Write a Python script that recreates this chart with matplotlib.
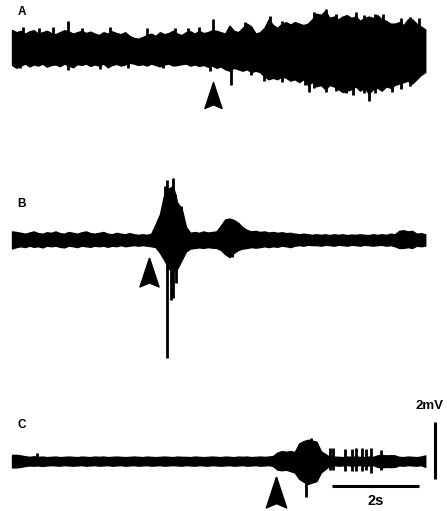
import numpy as np
import matplotlib.pyplot as plt

# envelope of each trace, one value every 0.1 s (mV above / below baseline)
dt = 0.1

upper_A = [0.63, 0.55, 0.60, 0.50, 0.58, 0.62, 0.50, 0.55, 0.60, 0.52,
           0.48, 0.55, 0.62, 0.58, 0.50, 0.55, 0.60, 0.52, 0.57, 0.50,
           0.45, 0.55, 0.50, 0.58, 0.52, 0.48, 0.55, 0.42, 0.35, 0.32,
           0.38, 0.45, 0.50, 0.42, 0.55, 0.48, 0.52, 0.60, 0.50, 0.45,
           0.55, 0.58, 0.50, 0.60, 0.52, 0.55, 0.62, 0.60, 0.55, 0.50,
           0.78, 0.60, 0.55, 0.70, 0.85, 0.75, 0.50, 0.55, 0.70, 1.00,
           0.80, 0.70, 0.85, 0.90, 0.82, 0.90, 0.85, 0.80, 0.85, 1.00,
           1.20, 1.15, 1.30, 1.05, 1.10, 1.00, 1.10, 1.15, 1.05, 1.10,
           0.95, 1.05, 1.10, 1.05, 1.15, 1.00, 0.95, 0.85, 0.85, 0.90,
           0.80, 1.00, 1.00, 0.85, 0.75, 0.65]
lower_A = [-0.60, -0.70, -0.62, -0.55, -0.65, -0.58, -0.62, -0.55, -0.66, -0.60,
           -0.58, -0.64, -0.55, -0.62, -0.68, -0.57, -0.60, -0.55, -0.63, -0.58,
           -0.62, -0.55, -0.68, -0.60, -0.56, -0.62, -0.58, -0.52, -0.55, -0.60,
           -0.57, -0.62, -0.55, -0.60, -0.65, -0.58, -0.55, -0.62, -0.60, -0.57,
           -0.55, -0.62, -0.58, -0.63, -0.60, -0.66, -0.62, -0.70, -0.65, -0.75,
           -0.80, -0.70, -0.75, -0.80, -0.75, -0.85, -0.80, -0.85, -1.00, -1.10,
           -1.05, -1.10, -1.00, -1.05, -1.15, -1.10, -1.20, -1.10, -1.30, -1.20,
           -1.35, -1.30, -1.45, -1.30, -1.35, -1.45, -1.55, -1.50, -1.45, -1.35,
           -1.50, -1.40, -1.60, -1.45, -1.40, -1.50, -1.35, -1.40, -1.30, -1.25,
           -1.20, -1.15, -1.25, -1.10, -0.95, -0.85]

upper_B = [0.30, 0.28, 0.25, 0.22, 0.26, 0.30, 0.24, 0.22, 0.27, 0.25,
           0.30, 0.24, 0.22, 0.28, 0.25, 0.22, 0.27, 0.30, 0.24, 0.22,
           0.25, 0.28, 0.22, 0.20, 0.25, 0.22, 0.20, 0.24, 0.20, 0.18,
           0.20, 0.18, 0.22, 0.55, 0.90, 1.60, 1.80, 1.90, 1.30, 1.10,
           0.45, 0.25, 0.28, 0.25, 0.30, 0.26, 0.28, 0.30, 0.50, 0.72,
           0.75, 0.70, 0.60, 0.45, 0.35, 0.30, 0.32, 0.28, 0.30, 0.26,
           0.28, 0.25, 0.27, 0.24, 0.25, 0.22, 0.20, 0.22, 0.20, 0.18,
           0.20, 0.18, 0.20, 0.17, 0.20, 0.18, 0.20, 0.17, 0.19, 0.18,
           0.20, 0.18, 0.17, 0.20, 0.18, 0.20, 0.18, 0.22, 0.20, 0.32,
           0.34, 0.30, 0.32, 0.22, 0.24, 0.20]
lower_B = [-0.30, -0.25, -0.22, -0.25, -0.20, -0.24, -0.22, -0.26, -0.20, -0.22,
           -0.20, -0.24, -0.26, -0.20, -0.22, -0.25, -0.20, -0.22, -0.24, -0.20,
           -0.22, -0.20, -0.24, -0.20, -0.22, -0.18, -0.22, -0.20, -0.18, -0.20,
           -0.18, -0.20, -0.22, -0.25, -0.45, -0.70, -1.00, -1.10, -1.00, -0.70,
           -0.40, -0.30, -0.28, -0.26, -0.28, -0.25, -0.27, -0.28, -0.35, -0.50,
           -0.60, -0.45, -0.35, -0.30, -0.28, -0.25, -0.27, -0.25, -0.22, -0.25,
           -0.22, -0.24, -0.20, -0.22, -0.25, -0.20, -0.18, -0.20, -0.17, -0.18,
           -0.18, -0.20, -0.17, -0.18, -0.20, -0.17, -0.18, -0.20, -0.17, -0.18,
           -0.20, -0.17, -0.18, -0.20, -0.18, -0.17, -0.20, -0.18, -0.22, -0.28,
           -0.28, -0.25, -0.28, -0.20, -0.22, -0.20]

upper_C = [0.22, 0.22, 0.20, 0.17, 0.15, 0.17, 0.15, 0.16, 0.14, 0.15,
           0.16, 0.14, 0.15, 0.16, 0.15, 0.14, 0.16, 0.15, 0.14, 0.16,
           0.15, 0.16, 0.14, 0.15, 0.16, 0.15, 0.14, 0.15, 0.16, 0.15,
           0.14, 0.16, 0.15, 0.14, 0.15, 0.16, 0.15, 0.14, 0.16, 0.15,
           0.15, 0.14, 0.16, 0.15, 0.14, 0.15, 0.16, 0.15, 0.14, 0.16,
           0.15, 0.14, 0.16, 0.15, 0.16, 0.14, 0.15, 0.16, 0.15, 0.16,
           0.18, 0.30, 0.35, 0.33, 0.35, 0.32, 0.62, 0.70, 0.75, 0.72,
           0.68, 0.35, 0.25, 0.15, 0.16, 0.15, 0.14, 0.16, 0.15, 0.16,
           0.15, 0.14, 0.16, 0.15, 0.20, 0.22, 0.20, 0.21, 0.20, 0.15,
           0.14, 0.16, 0.15, 0.14, 0.16, 0.20]
lower_C = [-0.22, -0.22, -0.20, -0.17, -0.15, -0.16, -0.15, -0.17, -0.15, -0.14,
           -0.15, -0.16, -0.14, -0.15, -0.16, -0.15, -0.14, -0.16, -0.15, -0.14,
           -0.16, -0.15, -0.14, -0.16, -0.15, -0.14, -0.16, -0.15, -0.14, -0.16,
           -0.15, -0.14, -0.16, -0.15, -0.14, -0.16, -0.15, -0.14, -0.15, -0.16,
           -0.14, -0.15, -0.16, -0.14, -0.15, -0.16, -0.14, -0.15, -0.16, -0.15,
           -0.14, -0.16, -0.15, -0.14, -0.16, -0.15, -0.14, -0.16, -0.15, -0.14,
           -0.17, -0.30, -0.32, -0.30, -0.35, -0.40, -0.62, -0.72, -0.80, -0.75,
           -0.70, -0.40, -0.28, -0.15, -0.14, -0.16, -0.15, -0.14, -0.16, -0.15,
           -0.14, -0.16, -0.15, -0.14, -0.20, -0.22, -0.20, -0.21, -0.20, -0.15,
           -0.16, -0.14, -0.15, -0.16, -0.14, -0.20]

# single sharp deflections: time (s), lowest (mV), highest (mV)
spikes_A_t = [0.18, 0.25, 0.62, 0.95, 1.29, 1.62, 2.02, 2.25, 2.67, 3.10, 3.47, 3.75,
              4.05, 4.30, 4.55, 4.62, 5.03, 5.36, 5.50, 5.80, 5.93, 6.20, 6.50, 6.74,
              6.83, 6.95, 7.05, 7.22, 7.45, 7.68, 7.85, 7.90, 8.10, 8.21, 8.35, 8.53,
              8.74, 8.95, 9.15, 9.35]
spikes_A_lo = [-0.70, 0, 0, 0, -0.77, 0, -0.75, 0, -0.72, 0, -0.72, 0,
               0, 0, -0.82, 0, -1.30, 0, -0.95, -1.15, 0, -1.20, 0, -1.30,
               -1.55, -1.40, 0, -1.55, -1.50, -1.60, -1.65, 0, -1.60, -1.85, -1.60, 0,
               -1.55, -1.45, -1.35, 0]
spikes_A_hi = [0, 0.72, 0.70, 0.72, 0.95, 0.70, 0, 0.72, 0, 0.70, 0, 0.68,
               0.70, 0.72, 0, 1.00, 0, 0.90, 0, 0, 1.12, 0.95, 0.90, 0,
               0, 1.25, 1.20, 1.35, 1.20, 0, 0, 1.25, 1.15, 0, 1.20, 1.20,
               0, 1.05, 1.10, 1.05]

spikes_B_t = [3.33, 3.52, 3.56, 3.60, 3.66, 3.70, 3.75, 3.77, 3.80, 3.89, 5.06]
spikes_B_lo = [0, 0, -4.14, 0, -2.10, -2.05, 0, -1.50, 0, 0, -0.60]
spikes_B_hi = [0.60, 1.90, 2.10, 1.80, 0, 2.17, 1.60, 0, 1.30, 1.20, 0]

spikes_C_t = [0.57, 6.76, 6.87, 7.31, 7.38, 7.66, 7.82, 7.91, 8.05, 8.14, 8.25, 8.48]
spikes_C_lo = [0, -1.26, 0, -0.30, -0.30, -0.35, -0.35, -0.35, -0.35, -0.30, -0.40, -0.30]
spikes_C_hi = [0.30, 0, 0.80, 0.45, 0.45, 0.43, 0.42, 0.45, 0.45, 0.42, 0.45, 0.40]

labels = ['A', 'B', 'C']
baselines = [-1.68, -8.42, -16.18]       # mV, vertical offset of each trace
stim_t = [4.62, 3.16, 6.08]              # s, arrowhead under each trace
stim_y = [-3.33, -9.53, -17.28]
stim_size = [18.7, 20.9, 22.3]

bar_t0, bar_len = 7.36, 2.0              # 2 s
bar_v_t, bar_v0, bar_vlen = 9.72, -16.81, 2.0   # 2 mV
bar_h_y = -17.05

arrowhead = [(0, 0.5), (0.33, -0.5), (0, -0.36), (-0.33, -0.5), (0, 0.5)]

fig = plt.figure(figsize=(4.47, 5.11), dpi=100)
ax = fig.add_axes([0, 0, 1, 1])
ax.set_xlim(-0.276, 10.0)
ax.set_ylim(-17.93, 0)
ax.axis('off')

ups = [upper_A, upper_B, upper_C]
los = [lower_A, lower_B, lower_C]
sp = [(spikes_A_t, spikes_A_lo, spikes_A_hi),
      (spikes_B_t, spikes_B_lo, spikes_B_hi),
      (spikes_C_t, spikes_C_lo, spikes_C_hi)]

for k in range(3):
    off = baselines[k]
    t = np.arange(len(ups[k])) * dt
    ax.fill_between(t, off + np.array(los[k]), off + np.array(ups[k]),
                    color='black', lw=1.0)
    st, slo, shi = sp[k]
    ax.vlines(st, off + np.array(slo), off + np.array(shi), color='black', lw=2.0)
    ax.plot(stim_t[k], stim_y[k], marker=arrowhead, color='black',
            markersize=stim_size[k], ls='none')
    ax.text(0.12, off + 1.05, labels[k], fontsize=8.5, fontweight='bold',
            family='Liberation Sans', ha='left', va='bottom')

ax.plot([bar_t0, bar_t0 + bar_len], [bar_h_y, bar_h_y], color='black', lw=2.2,
        solid_capstyle='butt')
ax.plot([bar_v_t, bar_v_t], [bar_v0, bar_v0 + bar_vlen], color='black', lw=2.2,
        solid_capstyle='butt')
ax.text(9.27, -14.44, '2mV', fontsize=9.5, fontweight='bold', family='Liberation Sans',
        ha='left', va='bottom')
ax.text(bar_t0 + bar_len / 2, -17.82, '2s', fontsize=10.5, fontweight='bold',
        family='Liberation Sans', ha='center', va='bottom')

fig.savefig('out.png', dpi=100)
